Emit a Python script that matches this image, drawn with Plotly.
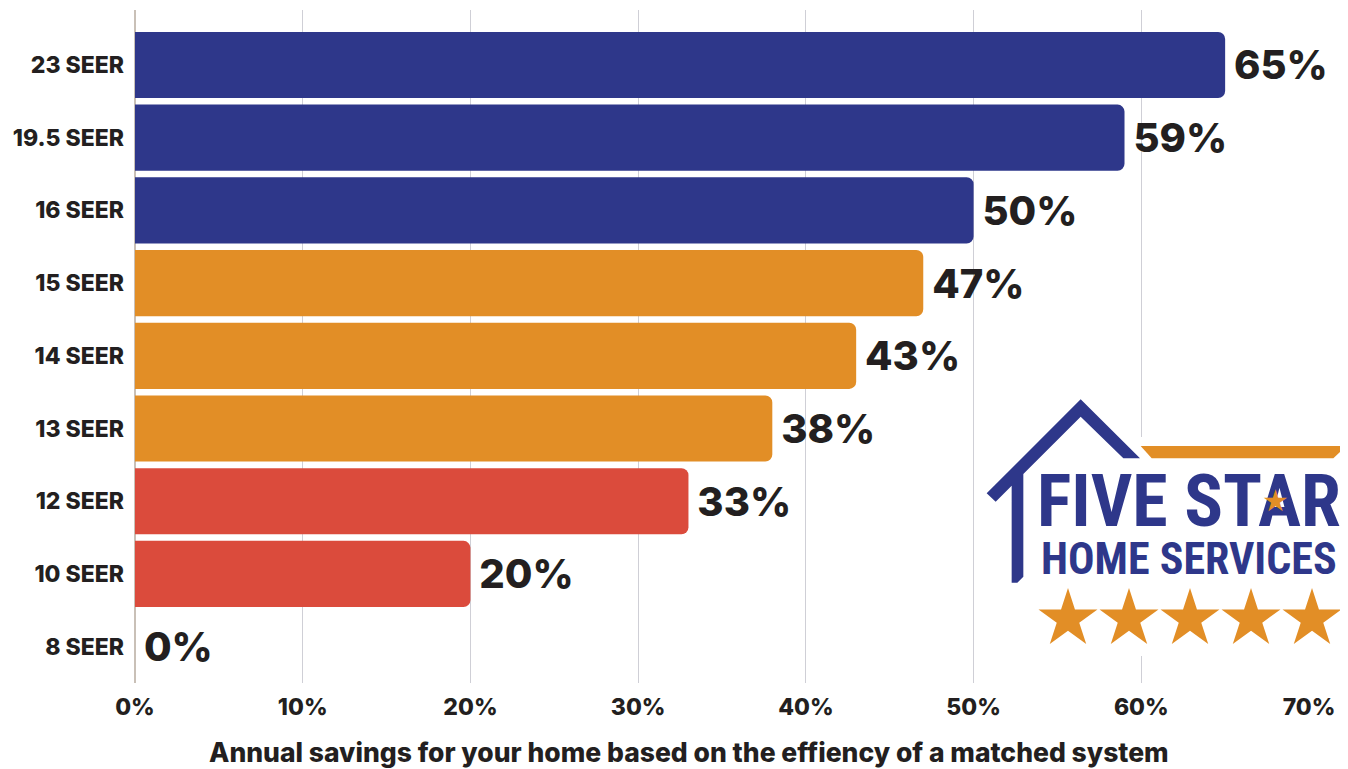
import math
import plotly.graph_objects as go

# ---- data (top to bottom) ----
categories = ["23 SEER", "19.5 SEER", "16 SEER", "15 SEER", "14 SEER", "13 SEER", "12 SEER", "10 SEER", "8 SEER"]
savings = [65, 59, 50, 47, 43, 38, 33, 20, 0]
value_labels = ["65%", "59%", "50%", "47%", "43%", "38%", "33%", "20%", "0%"]
tick_vals = [0, 10, 20, 30, 40, 50, 60, 70]
tick_text = ["0%", "10%", "20%", "30%", "40%", "50%", "60%", "70%"]

NAVY = "#2E378A"
ORANGE = "#E28E26"
RED = "#DB4B3C"
TXT = "#231F20"
bar_colors = [NAVY] * 3 + [ORANGE] * 3 + [RED] * 3

# page body has an 8px margin -> figure is drawn 8px in from the window corner
OFF = 8
W, H = 1348 - OFF, 769 - OFF
L, R, T, B = 135 - OFF, 39, 10 - OFF, 86
PW, PH = W - L - R, H - T - B

FONT = "Inter, Poppins, Roboto, sans-serif"
COND = "Liberation Sans Narrow, Roboto Condensed, Arial Narrow, Roboto, sans-serif"


def px(x):
    # x in window (reference) pixels -> paper
    return (x - OFF - L) / PW


def py(y):
    return (H - B - (y - OFF)) / PH


def zpt(zx, zy):
    # coordinates measured in logo crop space
    return px(980 + zx / 3), py(390 + zy / 3)


def path_from(points):
    s = ""
    for i, (zx, zy) in enumerate(points):
        x, y = zpt(zx, zy)
        s += ("M" if i == 0 else "L") + f"{x:.5f},{y:.5f} "
    return s + "Z"


def star_path(cx, cy, Ro):
    ri = Ro * 0.382
    pts = []
    for k in range(10):
        ang = math.pi / 2 + k * math.pi / 5
        rr = Ro if k % 2 == 0 else ri
        pts.append((cx + rr * math.cos(ang), cy - rr * math.sin(ang)))
    s = ""
    for i, (x, y) in enumerate(pts):
        s += ("M" if i == 0 else "L") + f"{px(x):.5f},{py(y):.5f} "
    return s + "Z"


fig = go.Figure()
fig.add_trace(go.Bar(
    y=categories, x=savings, orientation="h",
    marker=dict(color=bar_colors, line=dict(width=0), cornerradius=7),
    text=["\u2009" + t for t in value_labels], textposition="outside", cliponaxis=False,
    constraintext="none",
    textfont=dict(family=FONT, size=40, color=TXT, weight=800),
    hoverinfo="skip",
))

shapes = []
# white backdrop for logo
shapes.append(dict(type="rect", xref="paper", yref="paper",
                   x0=px(1030), x1=px(1346), y0=py(656), y1=py(437),
                   fillcolor="white", line=dict(width=0), layer="above"))
# house outline
house = [(20, 310), (302, 28), (480, 205), (430, 205), (302, 80), (130, 252),
         (130, 560), (112, 578), (95, 578), (95, 287), (47, 335)]
shapes.append(dict(type="path", xref="paper", yref="paper", path=path_from(house),
                   fillcolor=NAVY, line=dict(width=0), layer="above"))
# orange roof bar
roofbar = [(482, 168), (1080, 168), (1080, 186), (1060, 205), (515, 205)]
shapes.append(dict(type="path", xref="paper", yref="paper", path=path_from(roofbar),
                   fillcolor=ORANGE, line=dict(width=0), layer="above"))
# five stars
for cx in [1068, 1129, 1190, 1251, 1312]:
    shapes.append(dict(type="path", xref="paper", yref="paper", path=star_path(cx, 619, 31),
                       fillcolor=ORANGE, line=dict(width=0), layer="above"))

annotations = [
    dict(text="Annual savings for your home based on the effiency of a matched system",
         xref="paper", yref="paper", x=px(689), y=py(752), showarrow=False,
         xanchor="center", yanchor="middle",
         font=dict(family=FONT, size=26.5, color=TXT, weight=800)),
    dict(text="FIVE STAR", xref="paper", yref="paper", x=px(1189), y=py(501),
         showarrow=False, xanchor="center", yanchor="middle",
         font=dict(family=COND, size=72, color=NAVY, weight=700)),
    dict(text="HOME SERVICES", xref="paper", yref="paper", x=px(1189), y=py(559),
         showarrow=False, xanchor="center", yanchor="middle",
         font=dict(family=COND, size=44, color=NAVY, weight=700)),
    # small star inside the "A" of STAR
    dict(text="★", xref="paper", yref="paper", x=px(1275), y=py(500),
         showarrow=False, xanchor="center", yanchor="middle",
         font=dict(family="DejaVu Sans", size=30, color=ORANGE)),
]

fig.update_layout(
    width=W, height=H,
    margin=dict(l=L, r=R, t=T, b=B, pad=0),
    paper_bgcolor="white", plot_bgcolor="white",
    showlegend=False, bargap=0.09,
    font=dict(family=FONT, color=TXT),
    shapes=shapes, annotations=annotations,
    xaxis=dict(range=[0, 70], tickvals=tick_vals, ticktext=tick_text,
               showgrid=True, gridcolor="#CFCFD6", gridwidth=1,
               zeroline=True, zerolinecolor="#C9C0B7", zerolinewidth=2,
               showline=False, ticks="", ticklabelstandoff=8,
               tickfont=dict(family=FONT, size=23, color=TXT, weight=800),
               fixedrange=True),
    yaxis=dict(categoryorder="array", categoryarray=categories,
               range=[8.5, -0.756], showgrid=False, zeroline=False,
               showline=False, ticks="", ticklabelstandoff=10,
               tickfont=dict(family=FONT, size=23, color=TXT, weight=800),
               fixedrange=True),
)

fig.write_html("out.html")
